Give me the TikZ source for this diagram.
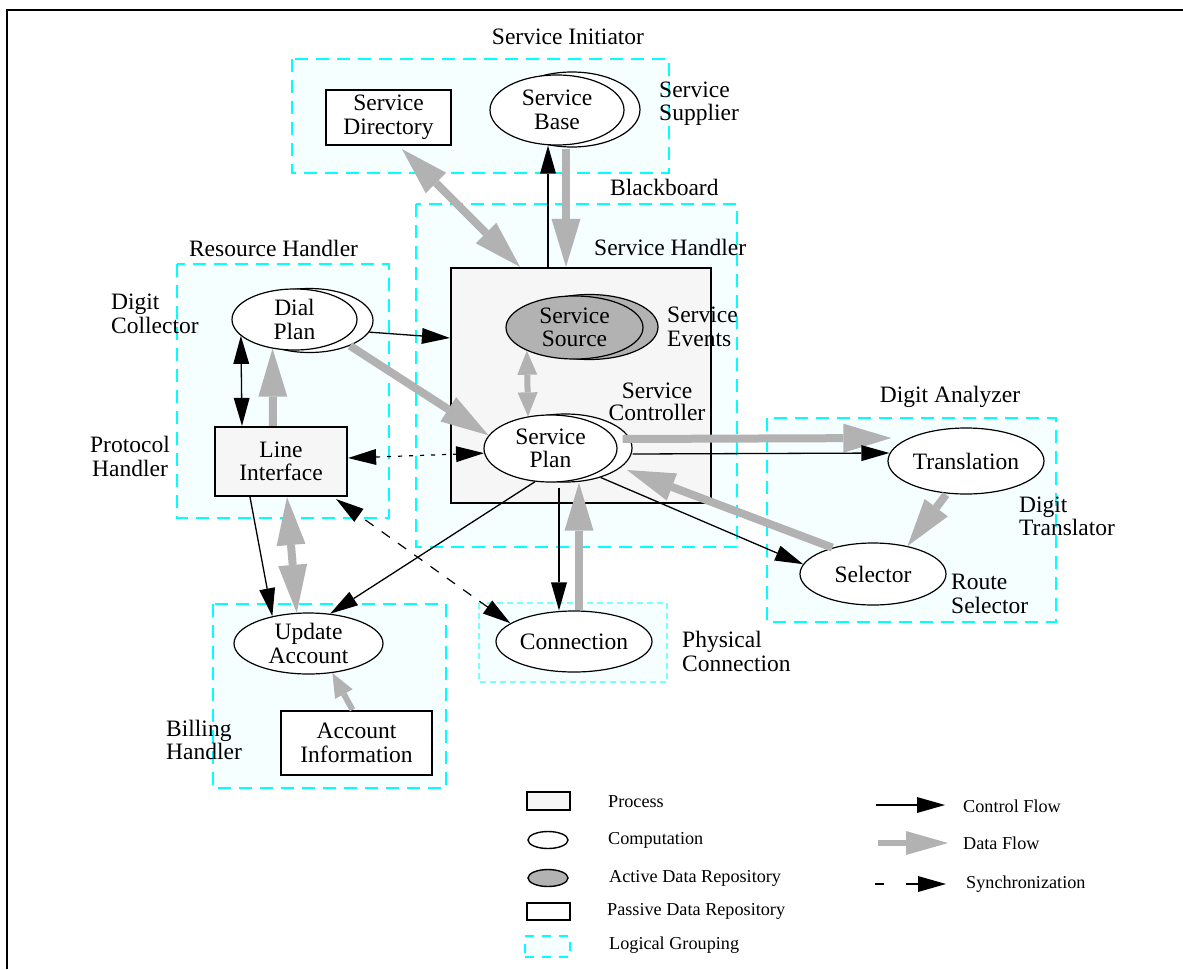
\documentclass[tikz,border=0pt]{standalone}
\usepackage{fontspec}
\setmainfont{Liberation Serif}
\usetikzlibrary{arrows.meta,shapes.geometric,calc}
\definecolor{grpfill}{RGB}{245,255,255}
\definecolor{grpline}{RGB}{0,255,255}
\definecolor{pcline}{RGB}{120,255,255}
\definecolor{procfill}{RGB}{246,246,246}
\definecolor{activefill}{RGB}{178,178,178}
\definecolor{dataclr}{RGB}{178,178,178}
\begin{document}
\begin{tikzpicture}[x=1pt,y=-1pt,
 every node/.style={font=\fontsize{23.5}{23.5}\selectfont},
 grp/.style={draw=grpline, fill=grpfill, line width=2.4pt, dash pattern=on 13pt off 8pt},
 pcgrp/.style={draw=pcline, fill=grpfill, line width=2pt, dash pattern=on 6pt off 4pt},
 proc/.style={rectangle, draw=black, fill=procfill, line width=2.2pt, inner sep=0pt, align=center},
 passive/.style={rectangle, draw=black, fill=white, line width=2.2pt, inner sep=0pt, align=center},
 comp/.style={ellipse, draw=black, fill=white, line width=1.2pt, inner sep=0pt},
 active/.style={ellipse, draw=black, fill=activefill, line width=1.2pt, inner sep=0pt},
 txt/.style={align=center, inner sep=0pt},
 lbl/.style={align=left, anchor=west, inner sep=0pt},
 lblc/.style={align=center, anchor=center, inner sep=0pt},
 lgtxt/.style={anchor=west, inner sep=0pt, font=\fontsize{18.2}{20}\selectfont},
 ctrl/.style={draw=black, line width=1.3pt, >={Triangle[length=28pt,width=16pt,line width=0pt]}, ->},
 ctrlboth/.style={ctrl, <->},
 data/.style={draw=dataclr, line width=8pt, >={Triangle[length=48pt,width=29pt,line width=0pt]}, ->},
 databoth/.style={data, <->},
 datasmall/.style={draw=dataclr, line width=6pt, >={Triangle[length=24pt,width=20pt,line width=0pt]}, ->},
 datasmallboth/.style={datasmall, <->},
 sync/.style={draw=black, line width=1.2pt, dash pattern=on 10pt off 10pt, >={Triangle[length=28pt,width=16pt,line width=0pt]}, <->},
 syncdot/.style={sync, dash pattern=on 4pt off 7pt},
]
\useasboundingbox (0,0) rectangle (1183,969);
% frame
\draw[line width=2.4pt] (7,969) -- (7,10) -- (1183,10);

% logical groupings
\draw[grp] (292,59) rectangle (669,173);
\draw[grp] (416,204) rectangle (737,547);
\draw[grp] (177,264) rectangle (389,518);
\draw[grp] (767,418) rectangle (1056,622);
\draw[grp] (213,604) rectangle (446,788);
\draw[pcgrp] (479,603) rectangle (667,682);

% group labels
\node[lblc] (lSI) at (568,37) {Service Initiator};
\node[lbl] (lSS) at (659,103.5) {Service\\Supplier};
\node[lbl] (lBB) at (610,187) {Blackboard};
\node[lbl] (lSH) at (594,247) {Service Handler};
\node[lblc] (lRH) at (273.5,248) {Resource Handler};
\node[lbl] (lDC) at (111,314) {Digit\\Collector};
\node[lblc] (lPH) at (130,456.5) {Protocol\\Handler};
\node[lblc] (lDA) at (950,397) {Digit Analyzer};
\node[lbl] (lDT) at (1019,516.5) {Digit\\Translator};
\node[lbl] (lRS) at (951,594) {Route\\Selector};
\node[lbl] (lPC) at (682,651.5) {Physical\\Connection};
\node[lbl] (lBH) at (166,740) {Billing\\Handler};

% nodes
\node[passive, minimum width=125pt, minimum height=55pt] (sdir) at (388.5,117.5) {Service\\Directory};
\node[comp, minimum width=136pt, minimum height=75pt] (sbB) at (572,109.5) {};
\node[comp, minimum width=134pt, minimum height=70pt, label={[txt]center:Service\\Base}] (sb) at (557,110) {};

\node[proc, minimum width=260pt, minimum height=235pt] (sc) at (581,385.5) {};
\node[lblc, font=\fontsize{23.5}{21.5}\selectfont] (lSC) at (657,402) {Service\\Controller};
\node[lbl] (lSE) at (667,327) {Service\\Events};
\node[active, minimum width=137pt, minimum height=65pt] (ssB) at (589.5,327) {};
\node[active, minimum width=137pt, minimum height=63pt, label={[txt]center:Service\\Source}] (ss) at (574.5,327.5) {};
\node[comp, minimum width=133pt, minimum height=68pt] (spB) at (565.5,448) {};
\node[comp, minimum width=133pt, minimum height=67pt, label={[txt]center:Service\\Plan}] (sp) at (550.5,448.5) {};

\node[comp, minimum width=127pt, minimum height=64pt] (dpB) at (309.5,320.5) {};
\node[comp, minimum width=125pt, minimum height=61pt, label={[txt]center:Dial\\Plan}] (dp) at (294.5,319.5) {};
\node[proc, minimum width=132pt, minimum height=69pt] (li) at (281,461.5) {Line\\Interface};

\node[comp, minimum width=156pt, minimum height=66pt, label={[txt]center:Translation}] (tr) at (966,461) {};
\node[comp, minimum width=146pt, minimum height=62pt, label={[txt]center:Selector}] (sel) at (873,574) {};
\node[comp, minimum width=156pt, minimum height=61pt, label={[txt]center:Connection}] (conn) at (574,641.5) {};
\node[comp, minimum width=149pt, minimum height=61pt, label={[txt]center:Update\\Account}] (ua) at (308.5,643.5) {};
\node[passive, minimum width=151pt, minimum height=64pt] (ai) at (356.5,743) {Account\\Information};

% connectors
\draw[databoth] ([xshift=13.5pt,yshift=-3pt]sdir.south) -- ([xshift=-61pt]sc.north);
\draw[ctrl] ([xshift=-33pt]sc.north) -- ([xshift=-9pt]sb.south);
\draw[data] ([xshift=9pt,yshift=-3pt]sb.south) -- ([xshift=-15pt]sc.north);
\draw[datasmallboth] (ss.206) -- (sp.125);
\draw[ctrl] (dpB.349) -- ([yshift=47.5pt]sc.west);
\draw[data] (dpB.328) -- (sp.168);
\draw[ctrlboth] (dp.197) -- ([xshift=-39pt]li.north);
\draw[data] ([xshift=-8pt]li.north) -- (dp.233);
\draw[syncdot] ([yshift=3.5pt]li.east) -- (sp.184);
\draw[data] ([xshift=-10pt,yshift=9pt]spB.east) -- ([xshift=4pt,yshift=23pt]tr.west);
\draw[ctrl] ([yshift=-6pt]spB.east) -- ([xshift=2pt,yshift=8pt]tr.west);
\draw[data] (sel.147) -- ([xshift=61.5pt,yshift=-22pt]spB.center);
\draw[ctrl] (spB.320) -- (sel.172);
\draw[data] ([xshift=-20pt]tr.south) -- (sel.39);
\draw[ctrl] (sp.245) -- (ua.54);
\draw[ctrl] ([xshift=-31pt]li.south) -- (ua.143);
\draw[databoth] ([xshift=6pt]li.south) -- (ua.111);
\draw[sync] (conn.164) -- ([xshift=-12pt,yshift=-2pt]li.south east);
\draw[ctrl] ([xshift=8.5pt,yshift=-5pt]sp.south) -- ([xshift=-15pt]conn.north);
\draw[data] ([xshift=5pt]conn.north) -- ([xshift=13.5pt]spB.south);
\draw[datasmall] ([xshift=-4pt]ai.north) -- (ua.309);

% legend
\node[proc, minimum width=43pt, minimum height=18pt] (lgP) at (548.5,801) {};
\node[comp, line width=1.4pt, minimum width=40pt, minimum height=17pt] (lgC) at (548,840) {};
\node[active, line width=1.4pt, minimum width=40pt, minimum height=17pt] (lgA) at (548,878) {};
\node[passive, minimum width=43pt, minimum height=17pt] (lgD) at (548.5,911.5) {};
\node[grp, rectangle, minimum width=45pt, minimum height=21pt, inner sep=0pt, dash pattern=on 9pt off 8pt] (lgG) at (547.5,946.5) {};
\node[lgtxt] (tP) at (608,802) {Process};
\node[lgtxt] (tC) at (608,840) {Computation};
\node[lgtxt] (tA) at (609,878) {Active Data Repository};
\node[lgtxt] (tD) at (607,911) {Passive Data Repository};
\node[lgtxt] (tG) at (609,945) {Logical Grouping};

\coordinate (cf1) at (876,805);
\coordinate (cf2) at (945,805);
\draw[ctrl] (cf1) -- (cf2);
\coordinate (df1) at (878,843);
\coordinate (df2) at (948,843);
\draw[data, line width=6pt, >={Triangle[length=42pt,width=24pt,line width=0pt]}] (df1) -- (df2);
\coordinate (sy1) at (875,884);
\coordinate (sy2) at (946,884);
\draw[sync, dash pattern=on 9pt off 22pt on 80pt, ->] (sy1) -- (sy2);
\node[lgtxt] (tCF) at (963,806) {Control Flow};
\node[lgtxt] (tDF) at (963,843) {Data Flow};
\node[lgtxt] (tSY) at (966,884) {Synchronization};
\end{tikzpicture}
\end{document}
